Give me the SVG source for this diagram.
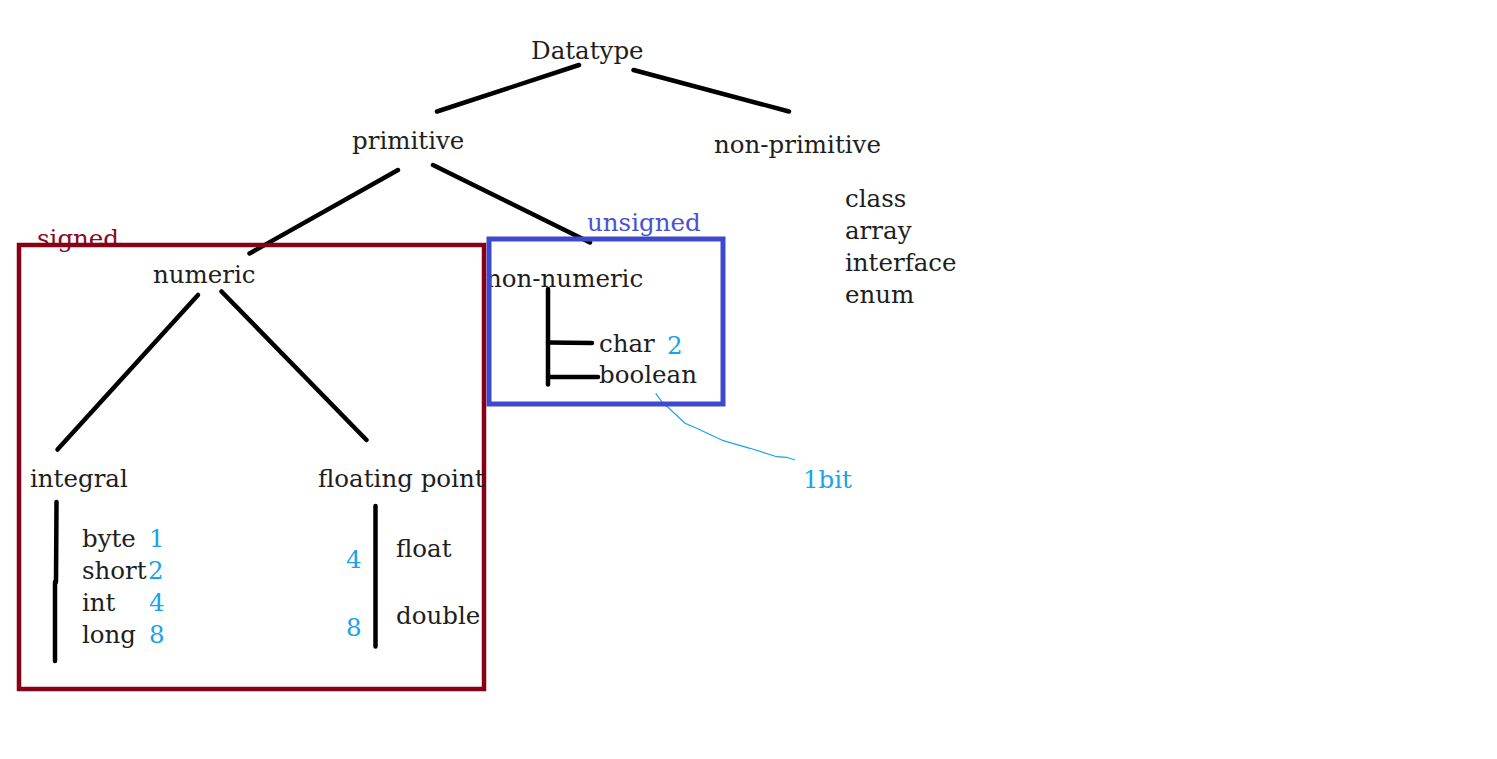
<svg xmlns="http://www.w3.org/2000/svg" width="1497" height="759" viewBox="0 0 1497 759">
<style>
text{font-family:"DejaVu Serif","Liberation Serif",serif;font-size:24.5px;fill:#1e1e1e}
.n{fill:#1aa3e8}
.red{fill:#8a0a1e}
.blu{fill:#4a52cf}
.ln{stroke:#000;stroke-width:4.5;stroke-linecap:round;fill:none}
</style>
<rect width="1497" height="759" fill="#fff"/>
<g id="connectors">
<line class="ln" x1="579" y1="65" x2="437" y2="111.5"/>
<line class="ln" x1="633.5" y1="70" x2="789" y2="111.5"/>
<line class="ln" x1="398" y1="170" x2="249.5" y2="253.5"/>
<line class="ln" x1="433" y1="165" x2="590" y2="242.5"/>
<line class="ln" x1="198" y1="295" x2="57.5" y2="449.5"/>
<line class="ln" x1="221.5" y1="291.5" x2="366.5" y2="440"/>
<line class="ln" x1="56.5" y1="502" x2="56" y2="582"/>
<line class="ln" x1="55" y1="582" x2="55" y2="661"/>
<line class="ln" x1="375.5" y1="506" x2="375.5" y2="646.5"/>
<line class="ln" x1="548" y1="289" x2="548" y2="384.5"/>
<line class="ln" x1="548" y1="342.5" x2="592" y2="343"/>
<line class="ln" x1="548" y1="377" x2="598" y2="377"/>
<polyline points="655.7,393.3 661.7,401.7 671.7,410.7 685,423.3 696.7,428.3 723.3,440.7 750,448.3 776.7,456.7 786.7,457.3 795,460" fill="none" stroke="#1aa3e8" stroke-width="1.2"/>
</g>
<g id="datatype"><text x="531" y="59">Datatype</text></g>
<g id="primitive"><text x="352" y="149">primitive</text></g>
<g id="non-primitive"><text x="714" y="153">non-primitive</text></g>
<g id="non-primitive-list">
<text x="845" y="207">class</text>
<text x="845" y="239">array</text>
<text x="845" y="271">interface</text>
<text x="845" y="303">enum</text>
</g>
<g id="signed-box">
<text class="red" x="37" y="247">signed</text>
<rect x="19" y="245" width="465" height="444" fill="none" stroke="#880015" stroke-width="4.5"/>
</g>
<g id="numeric"><text x="153" y="283">numeric</text></g>
<g id="integral">
<text x="30" y="487">integral</text>
<text x="82" y="547">byte</text>
<text x="82" y="579">short</text>
<text x="82" y="611">int</text>
<text x="82" y="643">long</text>
<text class="n" x="149" y="547">1</text>
<text class="n" x="148" y="579">2</text>
<text class="n" x="149" y="611">4</text>
<text class="n" x="149" y="643">8</text>
</g>
<g id="floating-point">
<text x="318" y="487">floating point</text>
<text x="396" y="557">float</text>
<text x="396" y="624">double</text>
<text class="n" x="346" y="568">4</text>
<text class="n" x="346" y="636">8</text>
</g>
<g id="unsigned-box">
<text class="blu" x="587" y="231">unsigned</text>
<text x="486" y="287">non-numeric</text>
<rect x="489" y="239" width="234" height="165" fill="none" stroke="#3f48cc" stroke-width="5"/>
<text x="599" y="352">char</text>
<text x="599" y="383">boolean</text>
<text class="n" x="667" y="354">2</text>
</g>
<g id="bit-note"><text class="n" x="803" y="488">1bit</text></g>
</svg>
